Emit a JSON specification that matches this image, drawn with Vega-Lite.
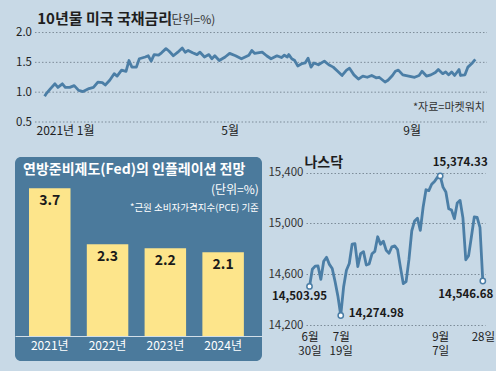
{
  "$schema": "https://vega.github.io/schema/vega-lite/v6.json",
  "background": "#c8d9e6",
  "padding": {"left": 15, "top": 4, "right": 9, "bottom": 10},
  "config": {
    "font": "Noto Sans CJK KR",
    "view": {"stroke": null},
    "axis": {"labelFlush": false, "labelOverlap": false, "domain": false, "ticks": false, "tickSize": 0, "grid": false, "labelColor": "#222222", "labelFont": "Noto Sans CJK KR"}
  },
  "datasets": {
    "grid": [{"g": 0.5}, {"g": 1.0}, {"g": 1.5}, {"g": 2.0}],
    "yield": [
      {"d": -4, "v": 0.93}, {"d": -3, "v": 0.97}, {"d": 0, "v": 1.06}, {"d": 3, "v": 1.14}, {"d": 5, "v": 1.08},
      {"d": 8, "v": 1.14}, {"d": 10, "v": 1.08}, {"d": 13, "v": 1.08}, {"d": 16, "v": 1.11}, {"d": 19, "v": 1.03},
      {"d": 22, "v": 1.01}, {"d": 26, "v": 1.06}, {"d": 29, "v": 1.08}, {"d": 32, "v": 1.17}, {"d": 35, "v": 1.16},
      {"d": 37, "v": 1.12}, {"d": 40, "v": 1.20}, {"d": 43, "v": 1.31}, {"d": 45, "v": 1.27}, {"d": 48, "v": 1.37},
      {"d": 51, "v": 1.35}, {"d": 53, "v": 1.53}, {"d": 55, "v": 1.42}, {"d": 58, "v": 1.42}, {"d": 60, "v": 1.56},
      {"d": 64, "v": 1.59}, {"d": 66, "v": 1.61}, {"d": 68, "v": 1.52}, {"d": 70, "v": 1.63}, {"d": 73, "v": 1.62},
      {"d": 75, "v": 1.66}, {"d": 78, "v": 1.73}, {"d": 80, "v": 1.69}, {"d": 83, "v": 1.61}, {"d": 86, "v": 1.67},
      {"d": 89, "v": 1.74}, {"d": 91, "v": 1.67}, {"d": 93, "v": 1.70}, {"d": 96, "v": 1.66}, {"d": 99, "v": 1.63},
      {"d": 101, "v": 1.67}, {"d": 104, "v": 1.59}, {"d": 107, "v": 1.63}, {"d": 109, "v": 1.56}, {"d": 111, "v": 1.61},
      {"d": 114, "v": 1.53}, {"d": 118, "v": 1.59}, {"d": 121, "v": 1.65}, {"d": 125, "v": 1.61}, {"d": 129, "v": 1.56},
      {"d": 134, "v": 1.62}, {"d": 136, "v": 1.70}, {"d": 138, "v": 1.65}, {"d": 143, "v": 1.67}, {"d": 146, "v": 1.61},
      {"d": 149, "v": 1.56}, {"d": 153, "v": 1.61}, {"d": 156, "v": 1.58}, {"d": 158, "v": 1.62}, {"d": 160, "v": 1.59},
      {"d": 161, "v": 1.63}, {"d": 163, "v": 1.56}, {"d": 165, "v": 1.53}, {"d": 167, "v": 1.44}, {"d": 170, "v": 1.48},
      {"d": 172, "v": 1.49}, {"d": 174, "v": 1.57}, {"d": 176, "v": 1.42}, {"d": 178, "v": 1.49}, {"d": 181, "v": 1.46},
      {"d": 185, "v": 1.52}, {"d": 188, "v": 1.46}, {"d": 191, "v": 1.42}, {"d": 194, "v": 1.35}, {"d": 197, "v": 1.28},
      {"d": 200, "v": 1.37}, {"d": 202, "v": 1.40}, {"d": 205, "v": 1.29}, {"d": 208, "v": 1.22}, {"d": 211, "v": 1.27},
      {"d": 214, "v": 1.25}, {"d": 217, "v": 1.28}, {"d": 220, "v": 1.24}, {"d": 222, "v": 1.25}, {"d": 226, "v": 1.17},
      {"d": 228, "v": 1.20}, {"d": 231, "v": 1.28}, {"d": 233, "v": 1.35}, {"d": 235, "v": 1.37}, {"d": 238, "v": 1.29},
      {"d": 242, "v": 1.27}, {"d": 246, "v": 1.25}, {"d": 249, "v": 1.28}, {"d": 251, "v": 1.35}, {"d": 254, "v": 1.27},
      {"d": 257, "v": 1.29}, {"d": 260, "v": 1.33}, {"d": 262, "v": 1.38}, {"d": 265, "v": 1.31}, {"d": 267, "v": 1.34},
      {"d": 269, "v": 1.29}, {"d": 271, "v": 1.34}, {"d": 273, "v": 1.28}, {"d": 276, "v": 1.38}, {"d": 277, "v": 1.28},
      {"d": 280, "v": 1.29}, {"d": 282, "v": 1.42}, {"d": 285, "v": 1.49}, {"d": 287, "v": 1.55}
    ],
    "fed": [
      {"year": "2021년", "value": 3.7},
      {"year": "2022년", "value": 2.3},
      {"year": "2023년", "value": 2.2},
      {"year": "2024년", "value": 2.1}
    ],
    "nasdaq": [
      {"date": "2021-06-30", "close": 14503.95}, {"date": "2021-07-02", "close": 14639.33},
      {"date": "2021-07-06", "close": 14663.64}, {"date": "2021-07-07", "close": 14665.06},
      {"date": "2021-07-08", "close": 14559.78}, {"date": "2021-07-09", "close": 14701.92},
      {"date": "2021-07-12", "close": 14733.24}, {"date": "2021-07-13", "close": 14677.65},
      {"date": "2021-07-14", "close": 14644.95}, {"date": "2021-07-15", "close": 14543.13},
      {"date": "2021-07-16", "close": 14427.24}, {"date": "2021-07-19", "close": 14274.98},
      {"date": "2021-07-20", "close": 14498.88}, {"date": "2021-07-21", "close": 14631.95},
      {"date": "2021-07-22", "close": 14684.60}, {"date": "2021-07-23", "close": 14836.99},
      {"date": "2021-07-26", "close": 14840.71}, {"date": "2021-07-27", "close": 14660.58},
      {"date": "2021-07-28", "close": 14762.58}, {"date": "2021-07-29", "close": 14778.26},
      {"date": "2021-07-30", "close": 14672.68}, {"date": "2021-08-02", "close": 14681.07},
      {"date": "2021-08-03", "close": 14761.29}, {"date": "2021-08-04", "close": 14780.53},
      {"date": "2021-08-05", "close": 14895.12}, {"date": "2021-08-06", "close": 14835.76},
      {"date": "2021-08-09", "close": 14860.18}, {"date": "2021-08-10", "close": 14788.09},
      {"date": "2021-08-11", "close": 14765.14}, {"date": "2021-08-12", "close": 14816.26},
      {"date": "2021-08-13", "close": 14822.90}, {"date": "2021-08-16", "close": 14793.76},
      {"date": "2021-08-17", "close": 14656.18}, {"date": "2021-08-18", "close": 14525.91},
      {"date": "2021-08-19", "close": 14541.79}, {"date": "2021-08-20", "close": 14714.66},
      {"date": "2021-08-23", "close": 14942.65}, {"date": "2021-08-24", "close": 15019.80},
      {"date": "2021-08-25", "close": 15041.86}, {"date": "2021-08-26", "close": 14945.81},
      {"date": "2021-08-27", "close": 15129.50}, {"date": "2021-08-30", "close": 15265.89},
      {"date": "2021-08-31", "close": 15259.24}, {"date": "2021-09-01", "close": 15309.38},
      {"date": "2021-09-02", "close": 15331.18}, {"date": "2021-09-03", "close": 15363.52},
      {"date": "2021-09-07", "close": 15374.33}, {"date": "2021-09-08", "close": 15286.64},
      {"date": "2021-09-09", "close": 15248.25}, {"date": "2021-09-10", "close": 15115.49},
      {"date": "2021-09-13", "close": 15105.58}, {"date": "2021-09-14", "close": 15037.76},
      {"date": "2021-09-15", "close": 15161.53}, {"date": "2021-09-16", "close": 15181.92},
      {"date": "2021-09-17", "close": 15043.97}, {"date": "2021-09-20", "close": 14713.90},
      {"date": "2021-09-21", "close": 14746.40}, {"date": "2021-09-22", "close": 14896.85},
      {"date": "2021-09-23", "close": 15052.24}, {"date": "2021-09-24", "close": 15047.70},
      {"date": "2021-09-27", "close": 14969.97}, {"date": "2021-09-28", "close": 14546.68}
    ]
  },
  "bounds": "flush",
  "spacing": 35,
  "vconcat": [
    {
      "width": 472,
      "height": 118,
      "resolve": {"axis": {"x": "independent", "y": "independent"}},
      "layer": [
        {
          "data": {"name": "grid"},
          "mark": {"type": "rule", "color": "#7d8c99", "strokeDash": [1.5, 2], "strokeWidth": 1},
          "encoding": {
            "x": {"datum": -10.5, "type": "quantitative", "scale": {"domain": [-24, 294.9], "nice": false, "zero": false}, "axis": null},
            "x2": {"datum": 294.9},
            "y": {"field": "g", "type": "quantitative", "scale": {"domain": [0.5, 2.478], "nice": false, "zero": false}, "axis": null}
          }
        },
        {
          "data": {"name": "yield"},
          "mark": {"type": "line", "color": "#4b7ea6", "strokeWidth": 2.8, "strokeJoin": "round"},
          "encoding": {
            "x": {
              "field": "d", "type": "quantitative",
              "scale": {"domain": [-24, 294.9], "nice": false, "zero": false},
              "axis": {
                "orient": "bottom", "title": null, "values": [1, 121, 244],
                "labelExpr": "datum.value === 1 ? '2021년 1월' : datum.value === 121 ? '5월' : '9월'",
                "labelOffset": {"condition": {"test": "datum.value === 1", "value": 13}, "value": 0},
                "labelFontSize": 12, "labelPadding": 3
              }
            },
            "y": {
              "field": "v", "type": "quantitative",
              "scale": {"domain": [0.5, 2.478], "nice": false, "zero": false},
              "axis": {"orient": "left", "title": null, "values": [0.5, 1, 1.5, 2], "format": ".1f", "offset": -20, "labelPadding": 3.5, "labelFontSize": 11.5}
            }
          }
        },
        {
          "data": {"values": [{}]},
          "mark": {"type": "text", "align": "left", "baseline": "middle", "fontSize": 15, "fontWeight": "bold", "color": "#1e1e1e", "text": "10년물 미국 국채금리"},
          "encoding": {
            "x": {"datum": -9, "type": "quantitative", "axis": null},
            "y": {"datum": 2.22, "type": "quantitative", "axis": null}
          }
        },
        {
          "data": {"values": [{}]},
          "mark": {"type": "text", "align": "left", "baseline": "middle", "fontSize": 12, "color": "#333333", "text": "(단위=%)"},
          "encoding": {
            "x": {"datum": 79, "type": "quantitative", "axis": null},
            "y": {"datum": 2.215, "type": "quantitative", "axis": null}
          }
        },
        {
          "data": {"values": [{}]},
          "mark": {"type": "text", "align": "right", "baseline": "middle", "fontSize": 11, "color": "#333333", "text": "*자료=마켓워치"},
          "encoding": {
            "x": {"datum": 293.5, "type": "quantitative", "axis": null},
            "y": {"datum": 0.74, "type": "quantitative", "axis": null}
          }
        }
      ]
    },
    {
      "bounds": "flush",
      "spacing": 44,
      "hconcat": [
        {
          "width": 247,
          "height": 204,
          "view": {"fill": "#4b7a9c", "stroke": null, "cornerRadius": 6},
          "resolve": {"axis": {"x": "independent", "y": "independent"}},
          "layer": [
            {
              "data": {"name": "fed"},
              "mark": {"type": "bar", "color": "#fde58b"},
              "encoding": {
                "x": {
                  "field": "year", "type": "nominal", "sort": null,
                  "scale": {"type": "band", "paddingInner": 0.282, "paddingOuter": 0.278, "align": 0.436, "round": false},
                  "axis": {"orient": "bottom", "title": null, "offset": -25, "domain": true, "domainColor": "#d3dfe8", "domainWidth": 1, "labelColor": "#ffffff", "labelFontSize": 12, "labelPadding": 4, "labelAngle": 0}
                },
                "y": {"field": "value", "type": "quantitative", "scale": {"domain": [-0.627, 4.486], "nice": false, "zero": false}, "axis": null},
                "y2": {"datum": 0}
              }
            },
            {
              "data": {"name": "fed"},
              "mark": {"type": "text", "dy": 13, "fontSize": 14, "fontWeight": "bold", "color": "#1a1a1a", "baseline": "middle"},
              "encoding": {
                "x": {"field": "year", "type": "nominal", "sort": null, "axis": null},
                "y": {"field": "value", "type": "quantitative", "axis": null},
                "text": {"field": "value", "format": ".1f"}
              }
            },
            {
              "data": {"values": [{}]},
              "mark": {"type": "text", "align": "left", "baseline": "middle", "dx": -6, "fontSize": 14, "fontWeight": "bold", "color": "#ffffff", "text": "연방준비제도(Fed)의 인플레이션 전망"},
              "encoding": {
                "x": {"datum": "2021년", "type": "nominal", "bandPosition": 0, "axis": null},
                "y": {"datum": 4.16, "type": "quantitative", "axis": null}
              }
            },
            {
              "data": {"values": [{}]},
              "mark": {"type": "text", "align": "right", "baseline": "middle", "dx": 15, "fontSize": 12, "color": "#ffffff", "text": "(단위=%)"},
              "encoding": {
                "x": {"datum": "2024년", "type": "nominal", "bandPosition": 1, "axis": null},
                "y": {"datum": 3.66, "type": "quantitative", "axis": null}
              }
            },
            {
              "data": {"values": [{}]},
              "mark": {"type": "text", "align": "right", "baseline": "middle", "dx": 15, "fontSize": 9.5, "color": "#ffffff", "text": "*근원 소비자가격지수(PCE) 기준"},
              "encoding": {
                "x": {"datum": "2024년", "type": "nominal", "bandPosition": 1, "axis": null},
                "y": {"datum": 3.22, "type": "quantitative", "axis": null}
              }
            }
          ]
        },
        {
          "width": 179,
          "height": 168,
          "resolve": {"axis": {"x": "independent", "y": "independent"}},
          "layer": [
            {
              "data": {"name": "nasdaq"},
              "mark": {"type": "line", "color": "#4b7ea6", "strokeWidth": 2.8, "strokeJoin": "round"},
              "encoding": {
                "x": {
                  "field": "date", "type": "ordinal",
                  "scale": {"type": "point", "padding": 2.39, "align": 0.615},
                  "axis": {
                    "orient": "bottom", "title": null,
                    "values": ["2021-06-30", "2021-07-19", "2021-09-07", "2021-09-28"],
                    "labelExpr": "datum.value === '2021-06-30' ? ['6월', '30일'] : datum.value === '2021-07-19' ? ['7월', '19일'] : datum.value === '2021-09-07' ? ['9월', '7일'] : '28일'",
                    "labelAngle": 0, "labelFontSize": 11.5, "labelPadding": 6, "labelLineHeight": 14.5, "labelBaseline": "top"
                  }
                },
                "y": {
                  "field": "close", "type": "quantitative",
                  "scale": {"domain": [14200, 15523.7], "nice": false, "zero": false},
                  "axis": {"orient": "left", "title": null, "values": [14200, 14600, 15000, 15400], "format": ",.0f", "grid": true, "gridDash": [1.5, 2], "gridColor": "#7d8c99", "gridWidth": 1, "labelPadding": 3, "labelFontSize": 11.5, "labelColor": "#333333"}
                }
              }
            },
            {
              "data": {"name": "nasdaq"},
              "transform": [{"filter": "datum.date === '2021-06-30' || datum.date === '2021-07-19' || datum.date === '2021-09-07' || datum.date === '2021-09-28'"}],
              "mark": {"type": "point", "filled": true, "fill": "#ffffff", "stroke": "#4b7ea6", "strokeWidth": 1.5, "size": 28, "opacity": 1},
              "encoding": {
                "x": {"field": "date", "type": "ordinal", "axis": null},
                "y": {"field": "close", "type": "quantitative", "axis": null}
              }
            },
            {
              "data": {"name": "nasdaq"},
              "transform": [{"filter": "datum.date === '2021-06-30'"}],
              "mark": {"type": "text", "align": "center", "baseline": "middle", "dx": -10, "dy": 11, "fontSize": 11.5, "fontWeight": "bold", "letterSpacing": -0.4, "color": "#1a1a1a"},
              "encoding": {
                "x": {"field": "date", "type": "ordinal", "axis": null},
                "y": {"field": "close", "type": "quantitative", "axis": null},
                "text": {"field": "close", "format": ",.2f"}
              }
            },
            {
              "data": {"name": "nasdaq"},
              "transform": [{"filter": "datum.date === '2021-07-19'"}],
              "mark": {"type": "text", "align": "left", "baseline": "middle", "dx": 8, "dy": -1, "fontSize": 11.5, "fontWeight": "bold", "letterSpacing": -0.4, "color": "#1a1a1a"},
              "encoding": {
                "x": {"field": "date", "type": "ordinal", "axis": null},
                "y": {"field": "close", "type": "quantitative", "axis": null},
                "text": {"field": "close", "format": ",.2f"}
              }
            },
            {
              "data": {"name": "nasdaq"},
              "transform": [{"filter": "datum.date === '2021-09-07'"}],
              "mark": {"type": "text", "align": "center", "baseline": "middle", "dx": 20, "dy": -13, "fontSize": 11.5, "fontWeight": "bold", "letterSpacing": -0.4, "color": "#1a1a1a"},
              "encoding": {
                "x": {"field": "date", "type": "ordinal", "axis": null},
                "y": {"field": "close", "type": "quantitative", "axis": null},
                "text": {"field": "close", "format": ",.2f"}
              }
            },
            {
              "data": {"name": "nasdaq"},
              "transform": [{"filter": "datum.date === '2021-09-28'"}],
              "mark": {"type": "text", "align": "center", "baseline": "middle", "dx": -17, "dy": 14, "fontSize": 11.5, "fontWeight": "bold", "letterSpacing": -0.4, "color": "#1a1a1a"},
              "encoding": {
                "x": {"field": "date", "type": "ordinal", "axis": null},
                "y": {"field": "close", "type": "quantitative", "axis": null},
                "text": {"field": "close", "format": ",.2f"}
              }
            },
            {
              "data": {"values": [{}]},
              "mark": {"type": "text", "align": "left", "baseline": "middle", "dx": -5, "fontSize": 14, "fontWeight": "bold", "color": "#1e1e1e", "text": "나스닥"},
              "encoding": {
                "x": {"datum": "2021-06-30", "type": "ordinal", "axis": null},
                "y": {"datum": 15474, "type": "quantitative", "axis": null}
              }
            }
          ]
        }
      ]
    }
  ]
}
